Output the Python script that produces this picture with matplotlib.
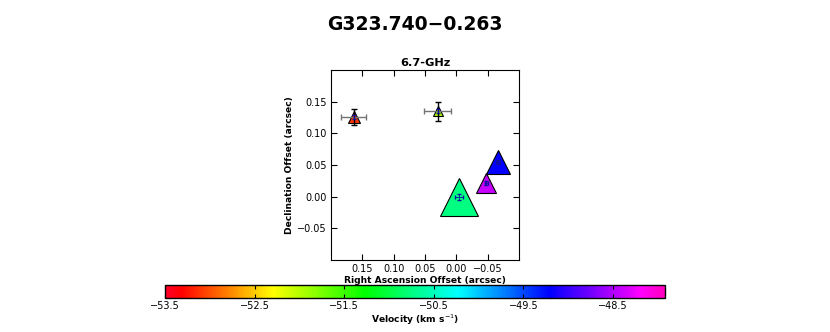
import matplotlib
matplotlib.use("Agg")
import matplotlib.pyplot as plt
import numpy as np
from matplotlib import cm, colors

# Data
ra = [0.164, 0.030, -0.004, -0.048, -0.067]
dec = [0.126, 0.135, 0.000, 0.022, 0.055]
vel = [-53.09, -51.96, -50.74, -48.40, -49.20]
msize = [8, 7, 27, 15, 17]
ra_err = [0.020, 0.022, 0.0, 0.0, 0.0]
dec_err = [0.013, 0.015, 0.0, 0.0, 0.0]
ra_err_fit = [0.0, 0.0, 0.0064, 0.003, 0.003]
dec_err_fit = [0.003, 0.003, 0.0047, 0.003, 0.003]
vmin, vmax = -53.5, -47.92
xticks = [0.15, 0.10, 0.05, 0.00, -0.05]
yticks = [-0.05, 0.00, 0.05, 0.10, 0.15]
cbar_ticks = [-53.5, -52.5, -51.5, -50.5, -49.5, -48.5]

cmap = plt.get_cmap('gist_rainbow')
norm = colors.Normalize(vmin=vmin, vmax=vmax)

fig = plt.figure(figsize=(8.3, 3.32), dpi=100)
fig.suptitle('G323.740\u22120.263', fontsize=13.5, fontweight='bold', y=0.955)

ax = fig.add_axes([0.3988, 0.217, 0.2265, 0.572])
for x, y, v, s in zip(ra, dec, vel, msize):
    ax.plot(x, y, marker='^', markersize=s, color=cmap(norm(v)),
            markeredgecolor='black', markeredgewidth=0.8, linestyle='none', zorder=2)
for x, y, xe, ye in zip(ra, dec, ra_err, dec_err):
    if xe > 0:
        ax.errorbar(x, y, xerr=xe, fmt='none', ecolor='0.45', elinewidth=1, capsize=2.5, zorder=3)
        ax.errorbar(x, y, yerr=ye, fmt='none', ecolor='black', elinewidth=1, capsize=2.5, zorder=3)
for x, y, xe, ye in zip(ra, dec, ra_err_fit, dec_err_fit):
    ax.errorbar(x, y, xerr=xe if xe > 0 else None, yerr=ye, fmt='none',
                ecolor='#1010a0', elinewidth=0.6, capsize=1.2, zorder=4)

ax.set_xlim(0.2, -0.1)
ax.set_ylim(-0.1, 0.2)
ax.set_xticks(xticks)
ax.set_yticks(yticks)
ax.set_xticklabels(['\u2212%.2f' % abs(t) if t < 0 else '%.2f' % t for t in xticks])
ax.set_yticklabels(['\u2212%.2f' % abs(t) if t < 0 else '%.2f' % t for t in yticks])
ax.tick_params(direction='in', top=True, right=True, labelsize=7, length=4, pad=3)
ax.set_xlabel('Right Ascension Offset (arcsec)', fontsize=6.6, fontweight='bold', labelpad=1)
ax.set_ylabel('Declination Offset (arcsec)', fontsize=6.6, fontweight='bold', labelpad=2)
ax.set_title('6.7-GHz', fontsize=8.2, fontweight='bold', pad=3)

cax = fig.add_axes([0.1992, 0.1015, 0.6017, 0.040])
sm = cm.ScalarMappable(norm=norm, cmap=cmap)
cb = fig.colorbar(sm, cax=cax, orientation='horizontal', ticks=cbar_ticks)
cb.ax.set_xticklabels(['\u2212%.1f' % abs(t) for t in cbar_ticks])
cb.ax.tick_params(direction='in', top=True, bottom=True, labelsize=7, length=3, pad=2)
cb.outline.set_linewidth(1)
cb.set_label('Velocity (km s$^{-1}$)', fontsize=6.6, fontweight='bold', labelpad=1)

fig.savefig('out.png', dpi=100)
